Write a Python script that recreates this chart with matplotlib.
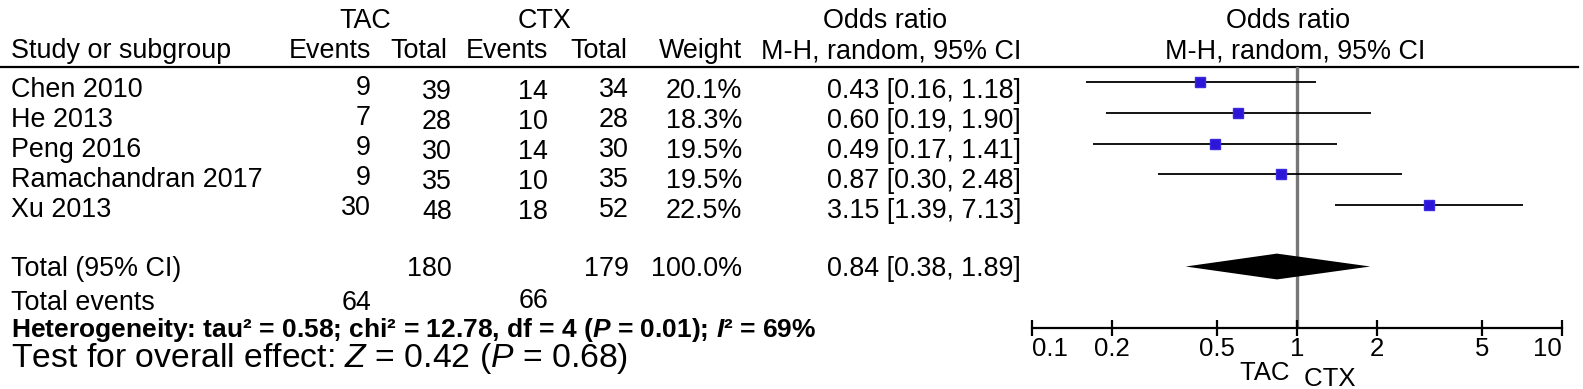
import numpy as np
import matplotlib
matplotlib.use("Agg")
from matplotlib import pyplot as plt
from matplotlib.transforms import blended_transform_factory

plt.rcParams['font.family'] = ['Liberation Sans', 'DejaVu Sans']
plt.rcParams['mathtext.fontset'] = 'custom'
plt.rcParams['mathtext.rm'] = 'Liberation Sans'
plt.rcParams['mathtext.it'] = 'Liberation Sans:italic'
plt.rcParams['mathtext.bfit'] = 'Liberation Sans:italic:bold'

# data
studies = ['Chen 2010', 'He 2013', 'Peng 2016', 'Ramachandran 2017', 'Xu 2013']
tac_events = [9, 7, 9, 9, 30]
tac_total = [39, 28, 30, 35, 48]
ctx_events = [14, 10, 14, 10, 18]
ctx_total = [34, 28, 30, 35, 52]
weights = [20.1, 18.3, 19.5, 19.5, 22.5]
or_est = [0.43, 0.60, 0.49, 0.87, 3.15]
or_lo = [0.16, 0.19, 0.17, 0.30, 1.39]
or_hi = [1.18, 1.90, 1.41, 2.48, 7.13]
pooled = [0.84, 0.38, 1.89]
total_n = [180, 179]
total_weight = 100.0
total_ev = [64, 66]
heterogeneity = r'Heterogeneity: tau² = 0.58; chi² = 12.78, df = 4 ($\mathbfit{P}$ = 0.01); $\mathbfit{I}$² = 69%'
overall = r'Test for overall effect: $\mathit{Z}$ = 0.42 ($\mathit{P}$ = 0.68)'
xticks = [0.1, 0.2, 0.5, 1, 2, 5, 10]
xticklabels = ['0.1', '0.2', '0.5', '1', '2', '5', '10']

W, H = 1583, 389
fig = plt.figure(figsize=(W / 100, H / 100), dpi=100)

# table layer in pixel coordinates
tab = fig.add_axes([0, 0, 1, 1])
tab.set_xlim(0, W)
tab.set_ylim(H, 0)
tab.axis('off')

fs = 19.4
def put(x, y, s, ha='right', **kw):
    kw.setdefault('fontsize', fs)
    tab.text(x, y, s, ha=ha, va='center_baseline', **kw)

# headers
put(365, 18, 'TAC', ha='center')
put(545, 18, 'CTX', ha='center')
put(885, 18, 'Odds ratio', ha='center')
put(1288, 18, 'Odds ratio', ha='center')
put(11, 48, 'Study or subgroup', ha='left')
put(371, 48, 'Events')
put(447, 48, 'Total')
put(548, 48, 'Events')
put(627, 48, 'Total')
put(742, 48, 'Weight')
put(1021, 48, 'M-H, random, 95% CI')
put(1295, 48, 'M-H, random, 95% CI', ha='center')
tab.plot([0, 1578], [67, 67], color='black', lw=1.6)

# study rows
row_y = [87, 117, 147, 177, 207]
for i, name in enumerate(studies):
    y = row_y[i]
    put(11, y, name, ha='left')
    put(371, y - 2, str(tac_events[i]))
    put(452, y + 2, str(tac_total[i]))
    put(548, y + 2, str(ctx_events[i]))
    put(629, y, str(ctx_total[i]))
    put(742, y + 1, f'{weights[i]:.1f}%')
    put(1021, y + 1, f'{or_est[i]:.2f} [{or_lo[i]:.2f}, {or_hi[i]:.2f}]')

put(11, 266, 'Total (95% CI)', ha='left')
put(452, 266, str(total_n[0]))
put(629, 266, str(total_n[1]))
put(742, 266, f'{total_weight:.1f}%')
put(1021, 266, f'{pooled[0]:.2f} [{pooled[1]:.2f}, {pooled[2]:.2f}]')
put(11, 300, 'Total events', ha='left')
put(371, 300, str(total_ev[0]))
put(548, 298, str(total_ev[1]))
put(11, 326, heterogeneity, ha='left', fontsize=19, fontweight='bold')
put(11, 354, overall, ha='left', fontsize=24.3)

# forest plot
x_one, decade = 1297, 265
x_left = x_one - decade
x_right = x_one + decade
top_px, bot_px = 67, 328
ax = fig.add_axes([x_left / W, 1 - bot_px / H, (x_right - x_left) / W, (bot_px - top_px) / H])
ax.set_xscale('log')
ax.set_xlim(0.1, 10)
ax.set_ylim(8.0, -0.49)
ax.patch.set_alpha(0)
for side in ['top', 'left', 'right']:
    ax.spines[side].set_visible(False)
ax.spines['bottom'].set_linewidth(1.6)
ax.spines['bottom'].set_color('black')

rows = np.arange(len(studies))
ax.axvline(1, color='#777777', lw=2.4, zorder=1)
ax.hlines(rows, or_lo, or_hi, color='black', lw=1.3, zorder=2)
for i in rows:
    ax.plot(or_est[i], i, 's', ms=7.2 * np.sqrt(weights[i] / 20.1),
            color='#2d16d8', mec='#3a2ae0', zorder=3)

k = 6
hh = 0.42
ax.fill([pooled[1], pooled[0], pooled[2], pooled[0]], [k, k - hh, k, k + hh],
        color='black', zorder=3, lw=0)

ax.set_xticks(xticks)
ax.set_xticklabels(xticklabels)
ax.minorticks_off()
ax.tick_params(axis='x', direction='inout', length=11, width=1.6, pad=1,
               labelsize=18.5)
ax.set_yticks([])
labs = ax.get_xticklabels()
labs[0].set_ha('left')
labs[-1].set_ha('right')

trans = blended_transform_factory(ax.transData, tab.transData)
tab.text(1, 370, 'TAC ', transform=trans, ha='right', va='center_baseline', fontsize=18.5)
tab.text(1, 377, ' CTX', transform=trans, ha='left', va='center_baseline', fontsize=18.5)

fig.savefig('out.png', dpi=100)
